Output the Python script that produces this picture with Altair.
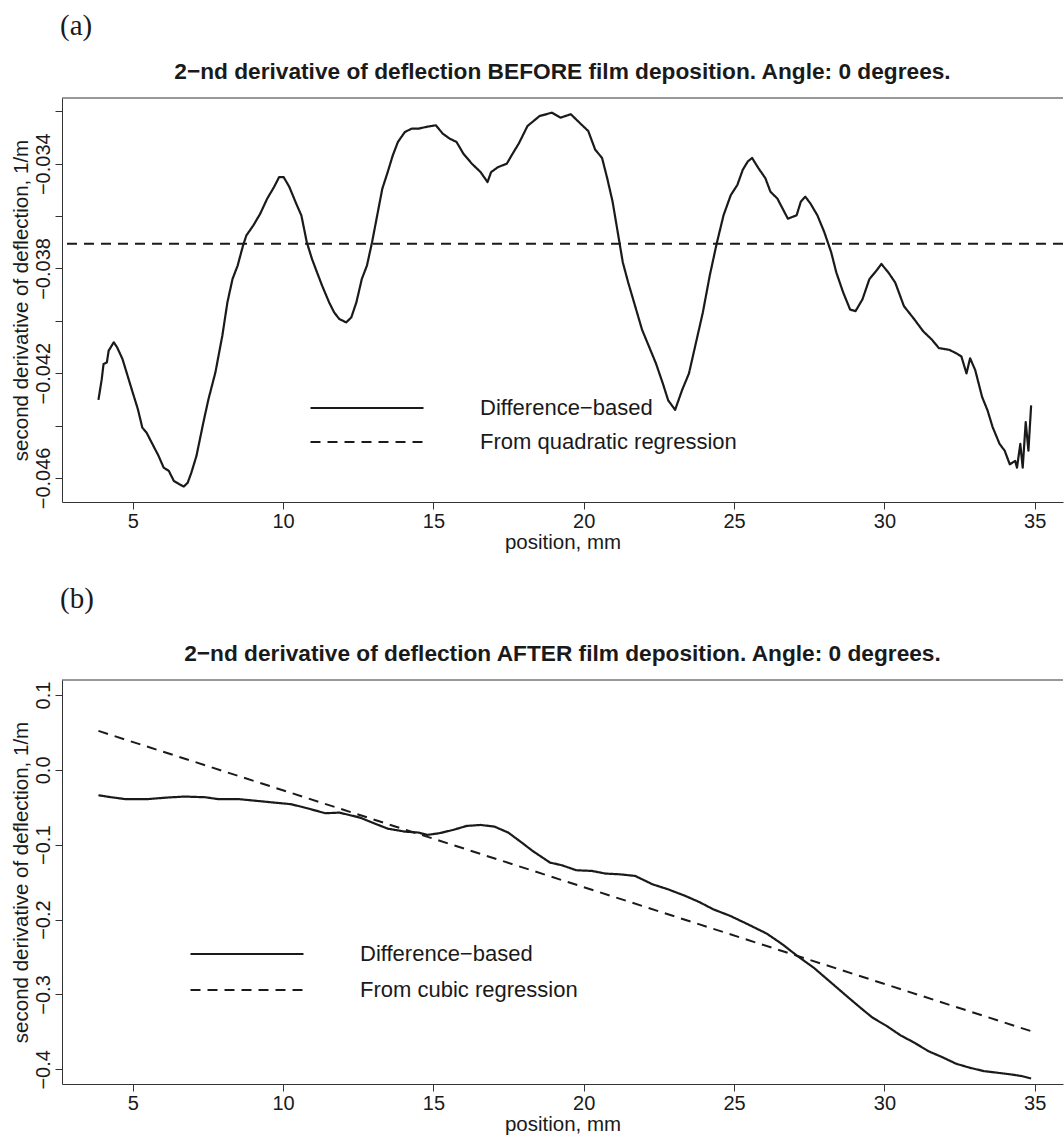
import altair as alt
import pandas as pd

# ---------------- data ----------------
x_ticks = [5, 10, 15, 20, 25, 30, 35]

# panel (a): before film deposition
a_pos = [3.86, 3.97, 4.03, 4.14, 4.20, 4.37, 4.48, 4.66, 4.83, 5.00,
         5.17, 5.32, 5.46, 5.63, 5.86, 6.03, 6.20, 6.37, 6.55, 6.70,
         6.83, 6.95, 7.12, 7.35, 7.52, 7.75, 7.98, 8.15, 8.32, 8.49,
         8.67, 8.78, 9.01, 9.24, 9.47, 9.70, 9.87, 10.02, 10.21, 10.44,
         10.61, 10.79, 10.96, 11.13, 11.30, 11.53, 11.70, 11.87, 12.10, 12.27,
         12.44, 12.62, 12.79, 12.96, 13.13, 13.30, 13.48, 13.65, 13.82, 14.05,
         14.28, 14.51, 14.74, 15.08, 15.31, 15.54, 15.77, 16.00, 16.28, 16.57,
         16.80, 16.92, 17.15, 17.44, 17.67, 17.84, 18.13, 18.53, 18.94, 19.23,
         19.57, 19.92, 20.15, 20.38, 20.61, 20.78, 20.96, 21.13, 21.30, 21.48,
         21.71, 21.94, 22.17, 22.40, 22.63, 22.81, 23.04, 23.27, 23.50, 23.73,
         23.96, 24.19, 24.42, 24.65, 24.89, 25.11, 25.29, 25.46, 25.60, 25.81,
         26.04, 26.21, 26.44, 26.79, 27.08, 27.22, 27.37, 27.54, 27.77, 28.00,
         28.23, 28.40, 28.63, 28.86, 29.04, 29.27, 29.50, 29.73, 29.90, 30.13,
         30.36, 30.65, 31.00, 31.29, 31.58, 31.81, 32.16, 32.39, 32.56, 32.73,
         32.85, 33.02, 33.25, 33.43, 33.60, 33.83, 34.00, 34.17, 34.35, 34.41,
         34.52, 34.60, 34.70, 34.79, 34.88]
a_diff = [-0.04302, -0.04223, -0.04165, -0.04159, -0.04114, -0.04082, -0.04101, -0.04146, -0.04210, -0.04274,
          -0.04337, -0.04408, -0.04427, -0.04465, -0.04516, -0.04561, -0.04573, -0.04612, -0.04624, -0.04633,
          -0.04618, -0.04580, -0.04516, -0.04388, -0.04299, -0.04197, -0.04057, -0.03929, -0.03840, -0.03789,
          -0.03712, -0.03674, -0.03636, -0.03591, -0.03534, -0.03489, -0.03451, -0.03451, -0.03489, -0.03553,
          -0.03598, -0.03700, -0.03763, -0.03815, -0.03866, -0.03929, -0.03968, -0.03993, -0.04006, -0.03987,
          -0.03929, -0.03840, -0.03789, -0.03700, -0.03598, -0.03496, -0.03432, -0.03368, -0.03317, -0.03279,
          -0.03266, -0.03266, -0.03260, -0.03253, -0.03285, -0.03304, -0.03317, -0.03362, -0.03400, -0.03432,
          -0.03470, -0.03432, -0.03413, -0.03400, -0.03355, -0.03323, -0.03256, -0.03218, -0.03205, -0.03224,
          -0.03211, -0.03250, -0.03275, -0.03346, -0.03378, -0.03455, -0.03545, -0.03661, -0.03777, -0.03854,
          -0.03944, -0.04034, -0.04098, -0.04162, -0.04239, -0.04304, -0.04340, -0.04265, -0.04201, -0.04085,
          -0.03969, -0.03828, -0.03706, -0.03597, -0.03520, -0.03481, -0.03423, -0.03391, -0.03378, -0.03417,
          -0.03455, -0.03507, -0.03533, -0.03610, -0.03597, -0.03545, -0.03526, -0.03552, -0.03597, -0.03661,
          -0.03738, -0.03815, -0.03892, -0.03957, -0.03963, -0.03918, -0.03841, -0.03809, -0.03783, -0.03815,
          -0.03854, -0.03944, -0.03995, -0.04040, -0.04072, -0.04104, -0.04111, -0.04124, -0.04136, -0.04201,
          -0.04143, -0.04188, -0.04291, -0.04342, -0.04406, -0.04470, -0.04496, -0.04548, -0.04535, -0.04561,
          -0.04470, -0.04561, -0.04387, -0.04496, -0.04323]
a_quadratic = -0.03706
a_yticks = [-0.046, -0.044, -0.042, -0.040, -0.038, -0.036, -0.034, -0.032]

# panel (b): after film deposition
b_pos = [3.86, 4.20, 4.77, 5.46, 6.15, 6.72, 7.41, 7.86, 8.55, 9.24,
         9.70, 10.27, 10.84, 11.41, 11.87, 12.56, 13.02, 13.48, 14.05, 14.51,
         14.79, 15.19, 15.65, 16.11, 16.57, 17.03, 17.49, 17.94, 18.30, 18.88,
         19.28, 19.75, 20.27, 20.73, 21.19, 21.71, 22.29, 22.80, 23.38, 23.84,
         24.31, 24.88, 25.46, 26.09, 26.61, 27.08, 27.65, 28.23, 28.81, 29.27,
         29.61, 30.08, 30.54, 31.00, 31.46, 31.92, 32.39, 32.85, 33.31, 33.77,
         34.23, 34.58, 34.88]
b_diff = [-0.0339, -0.0361, -0.0392, -0.0392, -0.0370, -0.0357, -0.0366, -0.0392, -0.0392, -0.0419,
          -0.0437, -0.0459, -0.0517, -0.0580, -0.0571, -0.0638, -0.0713, -0.0785, -0.0825, -0.0838,
          -0.0869, -0.0847, -0.0803, -0.0749, -0.0736, -0.0758, -0.0838, -0.0972, -0.1083, -0.1239,
          -0.1275, -0.1341, -0.1350, -0.1386, -0.1395, -0.1417, -0.1529, -0.1595, -0.1684, -0.1765,
          -0.1863, -0.1952, -0.2063, -0.2188, -0.2331, -0.2478, -0.2643, -0.2843, -0.3044, -0.3200,
          -0.3311, -0.3422, -0.3547, -0.3645, -0.3757, -0.3837, -0.3926, -0.3980, -0.4024, -0.4046,
          -0.4069, -0.4091, -0.4122]
b_cubic_pos = [3.86, 34.88]
b_cubic = [0.052, -0.349]
b_yticks = [-0.4, -0.3, -0.2, -0.1, 0.0, 0.1]

SOLID = "Difference\u2212based"
QUAD = "From quadratic regression"
CUBIC = "From cubic regression"
TITLE_A = "2\u2212nd derivative of deflection BEFORE film deposition. Angle: 0 degrees."
TITLE_B = "2\u2212nd derivative of deflection AFTER film deposition. Angle: 0 degrees."

# ---------------- styling ----------------
FONT = "Liberation Sans"
SERIF = "Liberation Serif"
INK = "#1a1a1a"
FRAME = "#333333"
W = 1001
H = 404
X_DOMAIN = [2.648, 35.94]
DASH = [10, 7]


def x_axis():
    return alt.Axis(values=x_ticks, format="d", title="position, mm", tickSize=7,
                    labelPadding=2, titlePadding=1, grid=False)


def legend(x, y, row_pad):
    return alt.Legend(title=None, orient="none", legendX=x, legendY=y,
                      symbolType="stroke", symbolSize=12769, symbolStrokeWidth=2.2,
                      symbolStrokeColor=INK, labelFontSize=22, labelFont=FONT,
                      labelColor=INK, labelOffset=55, labelLimit=0,
                      clipHeight=24, rowPadding=row_pad, padding=0)


def panel(line_df, reg_chart, y_domain, y_axis, title, leg, reg_name):
    dash = alt.StrokeDash("series:N",
                          scale=alt.Scale(domain=[SOLID, reg_name], range=[[1, 0], DASH]),
                          legend=leg)
    xs = alt.X("pos:Q", scale=alt.Scale(domain=X_DOMAIN, nice=False, zero=False), axis=x_axis())
    ys = alt.Y("val:Q", scale=alt.Scale(domain=y_domain, nice=False, zero=False), axis=y_axis)
    solid = alt.Chart(line_df).mark_line(color=INK, strokeWidth=2.2, strokeJoin="round").encode(
        x=xs, y=ys, strokeDash=dash, order="pos:Q")
    reg = reg_chart(dash)
    top = alt.Chart(pd.DataFrame({"k": [0]})).mark_rule(color=FRAME, strokeWidth=1).encode(
        y=alt.value(0))
    return alt.layer(solid, reg, top).properties(
        width=W, height=H,
        title=alt.TitleParams(title, font=FONT, fontSize=22.7, fontWeight="bold",
                              anchor="middle", offset=14, color=INK))


a_df = pd.DataFrame({"pos": a_pos, "val": a_diff, "series": SOLID})
a_reg_df = pd.DataFrame({"val": [a_quadratic], "series": [QUAD]})
b_df = pd.DataFrame({"pos": b_pos, "val": b_diff, "series": SOLID})
b_reg_df = pd.DataFrame({"pos": b_cubic_pos, "val": b_cubic, "series": CUBIC})

a_yaxis = alt.Axis(values=a_yticks, format=".3f",
                   labelExpr="round(datum.value*1000) % 4 == 0 ? '' : datum.label",
                   labelAngle=-90, labelAlign="center", labelBaseline="bottom",
                   tickSize=7, labelPadding=2, titlePadding=2, grid=False,
                   title="second derivative of deflection, 1/m")
b_yaxis = alt.Axis(values=b_yticks, format=".1f",
                   labelAngle=-90, labelAlign="center", labelBaseline="bottom",
                   tickSize=7, labelPadding=2, titlePadding=2, grid=False,
                   title="second derivative of deflection, 1/m")


def reg_a(dash):
    return alt.Chart(a_reg_df).mark_rule(color=INK, strokeWidth=2).encode(
        y=alt.Y("val:Q"), strokeDash=dash)


def reg_b(dash):
    return alt.Chart(b_reg_df).mark_line(color=INK, strokeWidth=2).encode(
        x="pos:Q", y="val:Q", strokeDash=dash)


pa = panel(a_df, reg_a, [-0.04692, -0.03149], a_yaxis, TITLE_A, legend(247, 298, 10), QUAD)
pb = panel(b_df, reg_b, [-0.4196, 0.12], b_yaxis, TITLE_B, legend(127, 262, 12), CUBIC)


def tag(text, off):
    return alt.TitleParams(text, font=SERIF, fontSize=29, fontWeight="normal",
                           anchor="start", frame="group", offset=off, color=INK, dx=-2)


chart = alt.vconcat(
    alt.vconcat(pa, title=tag("(a)", 20)),
    alt.vconcat(pb, title=tag("(b)", 29)),
    spacing=31,
).resolve_scale(strokeDash="independent").resolve_legend(strokeDash="independent").properties(
    padding={"left": 10, "top": 11, "right": 0, "bottom": 0},
    background="white",
).configure_view(stroke=None).configure_axis(
    labelFont=FONT, titleFont=FONT, labelFontSize=20, titleFontSize=20.5,
    labelColor=INK, titleColor=INK, titleFontWeight="normal",
    domainColor=FRAME, tickColor=FRAME, domainWidth=1, tickWidth=1,
)

chart.save("out.html", embed_options={"renderer": "svg", "actions": False})
